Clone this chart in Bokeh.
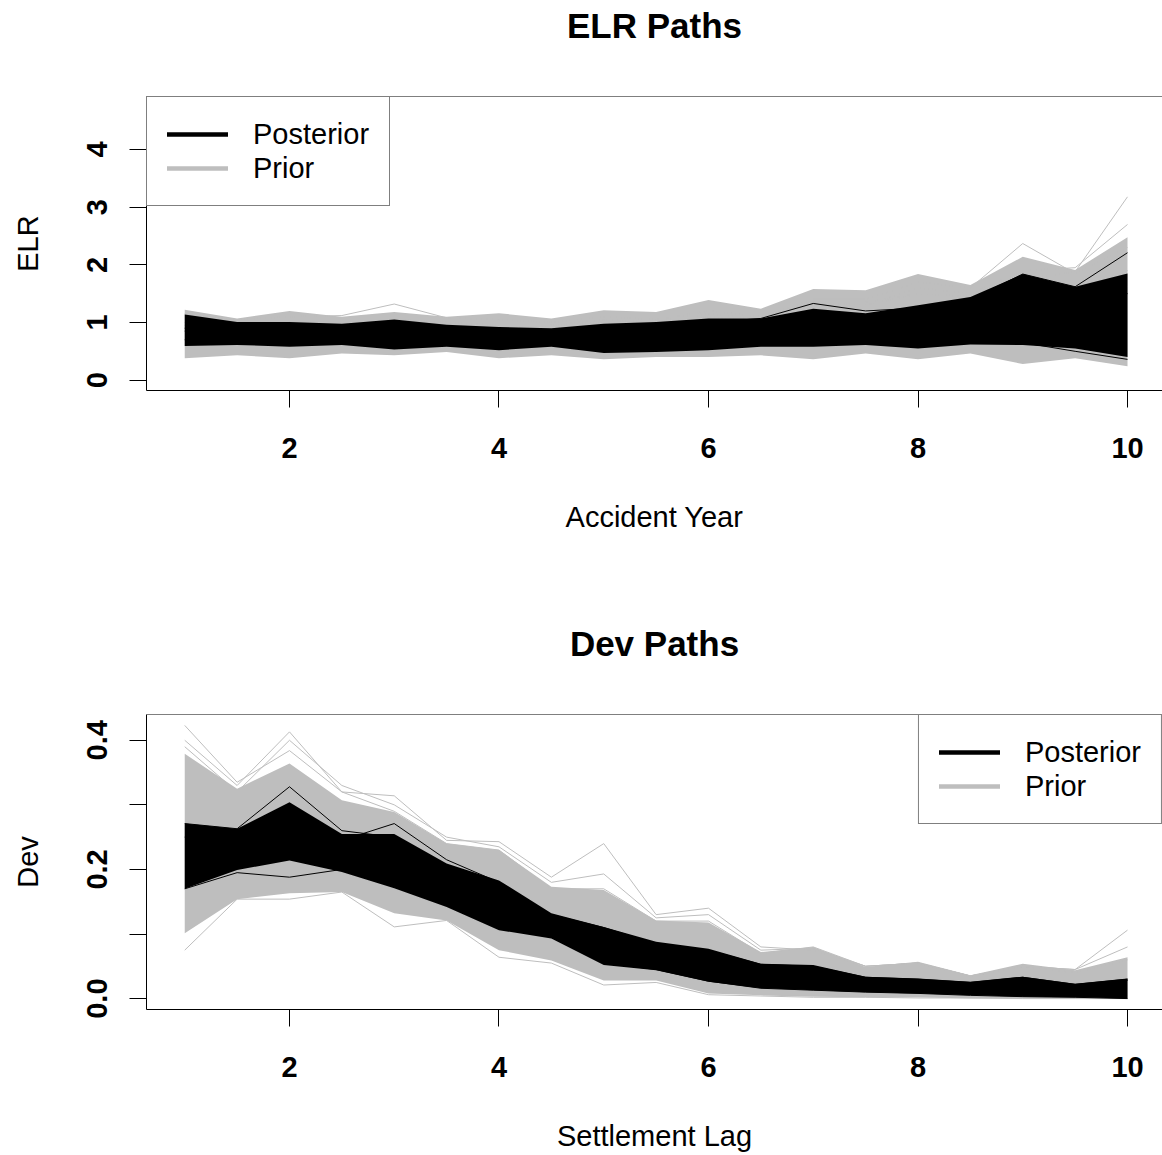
from bokeh.plotting import figure
from bokeh.models import Range1d, FixedTicker, PrintfTickFormatter, Span, Legend, LegendItem, Title
from bokeh.layouts import column
from bokeh.embed import file_html
from bokeh.resources import INLINE

# Half-step grid shared by both panels
steps = [1, 1.5, 2, 2.5, 3, 3.5, 4, 4.5, 5, 5.5, 6, 6.5, 7, 7.5, 8, 8.5, 9, 9.5, 10]

# ---- ELR paths: envelopes of the prior and posterior draws ----
elr_prior_hi = [1.22, 1.07, 1.20, 1.10, 1.18, 1.10, 1.16, 1.07, 1.21, 1.18, 1.39, 1.24, 1.58, 1.56, 1.84, 1.65, 2.14, 1.91, 2.48]
elr_prior_lo = [0.38, 0.43, 0.38, 0.46, 0.43, 0.49, 0.38, 0.43, 0.36, 0.40, 0.40, 0.43, 0.36, 0.46, 0.36, 0.46, 0.28, 0.38, 0.24]
elr_post_hi = [1.14, 1.01, 1.01, 0.98, 1.05, 0.96, 0.92, 0.90, 0.98, 1.01, 1.07, 1.07, 1.24, 1.16, 1.30, 1.44, 1.84, 1.62, 1.85]
elr_post_lo = [0.59, 0.61, 0.58, 0.61, 0.53, 0.58, 0.52, 0.58, 0.47, 0.49, 0.52, 0.58, 0.58, 0.61, 0.55, 0.62, 0.61, 0.55, 0.40]

# individual draws that stand out of the envelopes
elr_prior_paths = [
    [1.15, 1.05, 1.10, 1.12, 1.32, 1.08, 1.05, 1.00, 1.10, 1.05, 1.20, 1.10, 1.35, 1.30, 1.50, 1.45, 1.70, 1.60, 1.90],
    [0.90, 0.85, 0.90, 0.85, 0.95, 0.90, 0.85, 0.90, 0.95, 0.90, 1.10, 1.00, 1.30, 1.30, 1.60, 1.50, 1.75, 1.88, 3.18],
    [0.95, 0.90, 0.95, 0.90, 1.00, 0.95, 0.90, 0.95, 1.00, 0.95, 1.15, 1.05, 1.35, 1.35, 1.50, 1.50, 1.90, 1.95, 2.70],
    [1.00, 0.95, 1.00, 0.95, 1.05, 1.00, 0.95, 0.95, 1.05, 1.00, 1.20, 1.10, 1.40, 1.40, 1.70, 1.60, 2.37, 1.85, 2.30],
]
elr_post_paths = [
    [0.90, 0.85, 0.85, 0.85, 0.90, 0.85, 0.80, 0.80, 0.85, 0.90, 1.00, 1.07, 1.33, 1.20, 1.25, 1.30, 1.50, 1.40, 1.50],
    [0.85, 0.80, 0.85, 0.80, 0.85, 0.80, 0.75, 0.80, 0.80, 0.85, 0.90, 0.95, 1.05, 1.05, 1.25, 1.40, 1.84, 1.62, 2.21],
    [0.70, 0.70, 0.70, 0.70, 0.65, 0.70, 0.65, 0.70, 0.60, 0.60, 0.65, 0.70, 0.70, 0.70, 0.65, 0.70, 0.65, 0.50, 0.36],
]

# ---- Dev paths ----
dev_prior_hi = [0.379, 0.325, 0.364, 0.307, 0.289, 0.240, 0.230, 0.173, 0.168, 0.121, 0.118, 0.072, 0.080, 0.049, 0.057, 0.036, 0.054, 0.044, 0.064]
dev_prior_lo = [0.101, 0.154, 0.163, 0.165, 0.132, 0.121, 0.075, 0.059, 0.028, 0.028, 0.008, 0.005, 0.003, 0.002, 0.002, 0.000, 0.000, 0.000, 0.000]
dev_post_hi = [0.271, 0.263, 0.304, 0.255, 0.255, 0.209, 0.183, 0.132, 0.111, 0.088, 0.077, 0.054, 0.052, 0.034, 0.031, 0.026, 0.034, 0.023, 0.031]
dev_post_lo = [0.170, 0.199, 0.214, 0.196, 0.171, 0.142, 0.106, 0.093, 0.052, 0.044, 0.026, 0.016, 0.013, 0.010, 0.008, 0.005, 0.003, 0.002, 0.000]

dev_prior_paths = [
    [0.423, 0.335, 0.384, 0.320, 0.290, 0.240, 0.230, 0.170, 0.170, 0.120, 0.120, 0.070, 0.080, 0.050, 0.055, 0.035, 0.050, 0.040, 0.060],
    [0.400, 0.330, 0.413, 0.320, 0.314, 0.245, 0.243, 0.188, 0.240, 0.130, 0.140, 0.080, 0.075, 0.050, 0.055, 0.035, 0.050, 0.045, 0.106],
    [0.390, 0.320, 0.400, 0.330, 0.300, 0.250, 0.235, 0.180, 0.193, 0.125, 0.130, 0.075, 0.078, 0.050, 0.055, 0.035, 0.050, 0.045, 0.080],
    [0.075, 0.154, 0.154, 0.165, 0.111, 0.121, 0.064, 0.055, 0.021, 0.025, 0.006, 0.004, 0.002, 0.002, 0.001, 0.001, 0.000, 0.000, 0.000],
]
dev_post_paths = [
    [0.271, 0.263, 0.328, 0.260, 0.250, 0.205, 0.180, 0.130, 0.110, 0.085, 0.075, 0.053, 0.050, 0.033, 0.030, 0.025, 0.033, 0.022, 0.030],
    [0.250, 0.250, 0.290, 0.245, 0.271, 0.215, 0.180, 0.130, 0.105, 0.080, 0.070, 0.050, 0.048, 0.030, 0.028, 0.022, 0.030, 0.020, 0.028],
    [0.170, 0.195, 0.188, 0.200, 0.175, 0.145, 0.110, 0.095, 0.055, 0.045, 0.027, 0.016, 0.013, 0.010, 0.008, 0.005, 0.003, 0.002, 0.000],
]

x_ticks = [2, 4, 6, 8, 10]
elr_ticks = [0, 1, 2, 3, 4]
dev_ticks = [0.0, 0.2, 0.4]
dev_minor = [0.1, 0.3]

PRIOR = "#BEBEBE"
FONT = "Liberation Sans"
NAN = float("nan")


def panel(title, xlabel, ylabel, y_lo, y_hi, prior_hi, prior_lo, post_hi, post_lo,
          prior_paths, post_paths, border_top, border_bottom, frame_h, legend_loc):
    p = figure(frame_width=1016, frame_height=frame_h,
               min_border_left=146, min_border_right=0,
               min_border_top=border_top, min_border_bottom=border_bottom,
               x_range=Range1d(0.635, 10.334), y_range=Range1d(y_lo, y_hi),
               output_backend="svg", toolbar_location=None)
    p.title = None
    p.xgrid.visible = False
    p.ygrid.visible = False
    p.outline_line_color = None
    p.background_fill_color = "white"
    p.border_fill_color = "white"

    # gap between the box and the heading, then the heading itself
    p.add_layout(Title(text=" ", text_font_size="10px", standoff=39), "above")
    p.add_layout(Title(text=title, text_font=FONT, text_font_size="35px", text_font_style="bold",
                       text_color="black", align="center", standoff=0), "above")

    # prior draws
    p.varea(x=steps, y1=prior_lo, y2=prior_hi, fill_color=PRIOR)
    p.multi_line(xs=[steps] * len(prior_paths), ys=prior_paths, line_color=PRIOR, line_width=1)
    # posterior draws
    p.varea(x=steps, y1=post_lo, y2=post_hi, fill_color="black")
    p.multi_line(xs=[steps] * len(post_paths), ys=post_paths, line_color="black", line_width=1)

    # top edge of the box
    p.add_layout(Span(location=y_hi, dimension="width", line_color="black", line_width=1))

    for ax in (p.xaxis[0], p.yaxis[0]):
        ax.axis_line_color = "black"
        ax.major_tick_line_color = "black"
        ax.major_tick_in = 0
        ax.major_tick_out = 17
        ax.minor_tick_in = 0
        ax.minor_tick_out = 17
        ax.minor_tick_line_color = "black"
        ax.major_label_text_font = FONT
        ax.major_label_text_font_size = "29px"
        ax.major_label_text_font_style = "bold"
        ax.major_label_text_color = "black"
        ax.axis_label_text_font = FONT
        ax.axis_label_text_font_size = "29px"
        ax.axis_label_text_font_style = "normal"
        ax.axis_label_text_color = "black"

    p.xaxis.ticker = FixedTicker(ticks=x_ticks, minor_ticks=[])
    p.xaxis.major_label_standoff = 30
    p.xaxis.axis_label = xlabel
    p.xaxis.axis_label_standoff = 40

    p.yaxis.major_label_orientation = "vertical"
    p.yaxis.major_label_standoff = 22
    p.yaxis.axis_label = ylabel
    p.yaxis.axis_label_standoff = 41

    # legend keys (no visible data)
    post_key = p.line(x=[NAN], y=[NAN], line_color="black", line_width=4.5, line_cap="round")
    prior_key = p.line(x=[NAN], y=[NAN], line_color=PRIOR, line_width=4.5, line_cap="round")
    legend = Legend(items=[LegendItem(label="Posterior", renderers=[post_key]),
                           LegendItem(label="Prior", renderers=[prior_key])],
                    location=legend_loc, margin=0, padding=20, spacing=0,
                    glyph_width=61, glyph_height=34, label_height=34, label_standoff=25,
                    label_text_font=FONT, label_text_font_size="29px", label_text_color="black",
                    border_line_color="black", border_line_width=1,
                    background_fill_color="white", background_fill_alpha=1.0)
    p.add_layout(legend)
    return p


p1 = panel("ELR Paths", "Accident Year", "ELR", -0.18, 4.92,
           elr_prior_hi, elr_prior_lo, elr_post_hi, elr_post_lo,
           elr_prior_paths, elr_post_paths, 96, 187, 294, "top_left")
p1.yaxis.ticker = FixedTicker(ticks=elr_ticks, minor_ticks=[])

p2 = panel("Dev Paths", "Settlement Lag", "Dev", -0.0169, 0.4399,
           dev_prior_hi, dev_prior_lo, dev_post_hi, dev_post_lo,
           dev_prior_paths, dev_post_paths, 137, 146, 295, "top_right")
p2.yaxis.ticker = FixedTicker(ticks=dev_ticks, minor_ticks=dev_minor)
p2.yaxis.formatter = PrintfTickFormatter(format="%.1f")

layout = column(p1, p2, spacing=0)
open("out.html", "w").write(file_html(layout, INLINE))
